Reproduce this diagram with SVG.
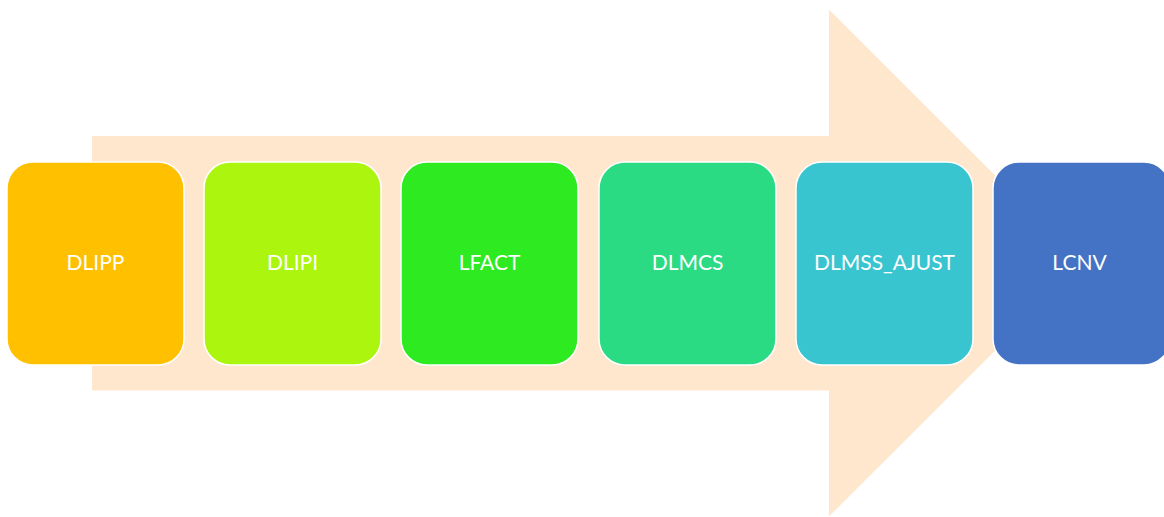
<svg xmlns="http://www.w3.org/2000/svg" width="1164" height="517" viewBox="0 0 1164 517">
<style>
.box{stroke:#ffffff;stroke-width:1.5}
.lbl{font-family:Lato,"Open Sans","Liberation Sans",sans-serif;font-size:21px;fill:#ffffff;text-anchor:middle;dominant-baseline:central}
</style>
<rect width="1164" height="517" fill="#ffffff"/>
<g id="arrow">
<polygon points="92,136 829,136 829,9.5 1083,263 829,516.5 829,390.5 92,390.5" fill="#FFE7CE"/>
</g>
<g id="connectors"></g>
<g id="n1"><rect class="box" x="7" y="162" width="177" height="203" rx="26" fill="#FFC000"/><text class="lbl" x="95.5" y="261">DLIPP</text></g>
<g id="n2"><rect class="box" x="204" y="162" width="177" height="203" rx="26" fill="#ABF50F"/><text class="lbl" x="292.5" y="261">DLIPI</text></g>
<g id="n3"><rect class="box" x="401" y="162" width="177" height="203" rx="26" fill="#2EEA20"/><text class="lbl" x="489.5" y="261">LFACT</text></g>
<g id="n4"><rect class="box" x="599" y="162" width="177" height="203" rx="26" fill="#2ADB84"/><text class="lbl" x="687.5" y="261">DLMCS</text></g>
<g id="n5"><rect class="box" x="796" y="162" width="177" height="203" rx="26" fill="#38C5CF"/><text class="lbl" x="884.5" y="261">DLMSS_AJUST</text></g>
<g id="n6"><rect class="box" x="993" y="162" width="177" height="203" rx="26" fill="#4472C4"/><text class="lbl" x="1079.5" y="261">LCNV</text></g>
</svg>
